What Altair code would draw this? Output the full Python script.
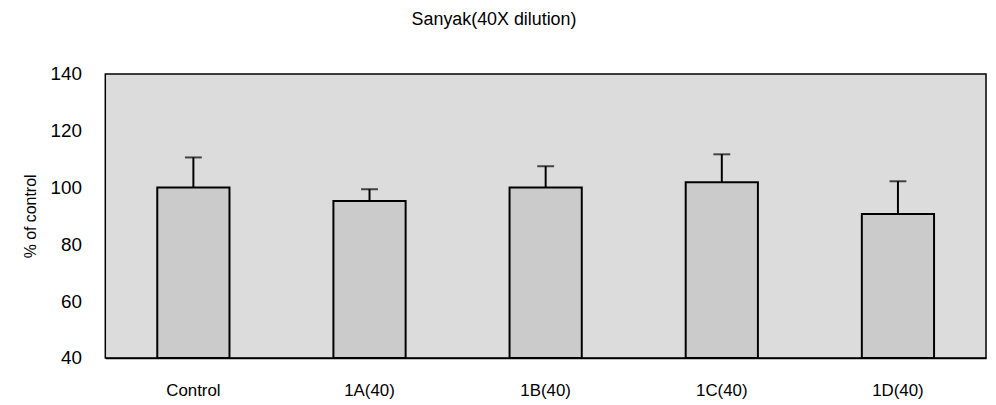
import altair as alt
import pandas as pd

categories = ["Control", "1A(40)", "1B(40)", "1C(40)", "1D(40)"]
means = [100.0, 95.3, 100.0, 101.9, 90.7]
errors = [10.6, 4.1, 7.5, 9.8, 11.5]

df = pd.DataFrame({"cat": categories, "mean": means, "err": errors})
df["top"] = df["mean"] + df["err"]

FONT = "Liberation Sans"

x = alt.X("cat:N", sort=categories, title=None,
          scale=alt.Scale(paddingInner=0.59, paddingOuter=0.295),
          axis=alt.Axis(labelAngle=0, ticks=False, domain=True, domainColor="black",
                        domainWidth=1.5, labelFontSize=17, labelColor="black",
                        labelPadding=25, labelFont=FONT))
yscale = alt.Scale(domain=[40, 140], zero=False, nice=False)

bars = alt.Chart(df).mark_bar(color="#cbcbcb", stroke="black", strokeWidth=2).encode(
    x=x,
    y=alt.Y("mean:Q", scale=yscale, title="% of control",
            axis=alt.Axis(values=[40, 60, 80, 100, 120, 140], grid=False, ticks=False,
                          domain=False, labelFontSize=19, labelColor="black",
                          labelPadding=24, labelFont=FONT, titleFont=FONT,
                          titleFontSize=16, titleFontWeight="normal",
                          titleColor="black", titlePadding=12)),
    y2=alt.datum(40),
)

whisker = alt.Chart(df).mark_rule(color="black", strokeWidth=2).encode(
    x=alt.X("cat:N", sort=categories),
    y=alt.Y("mean:Q", scale=yscale),
    y2="top:Q",
)

caps = alt.Chart(df).mark_tick(color="black", size=17, thickness=2, orient="horizontal").encode(
    x=alt.X("cat:N", sort=categories),
    y=alt.Y("top:Q", scale=yscale),
)

chart = alt.layer(bars, whisker, caps).properties(
    width=887,
    height=286,
    background="white",
    autosize=alt.AutoSizeParams(type="none"),
    padding={"left": 98, "top": 65, "right": 2, "bottom": 46},
    title=alt.Title("Sanyak(40X dilution)", font=FONT, fontSize=18, fontWeight="normal",
                    color="black", anchor="middle", dx=-52, offset=36),
).configure_view(
    fill="#dcdcdc", stroke="black", strokeWidth=1.5
)

chart.save("out.html", embed_options={"renderer": "svg", "actions": False})
